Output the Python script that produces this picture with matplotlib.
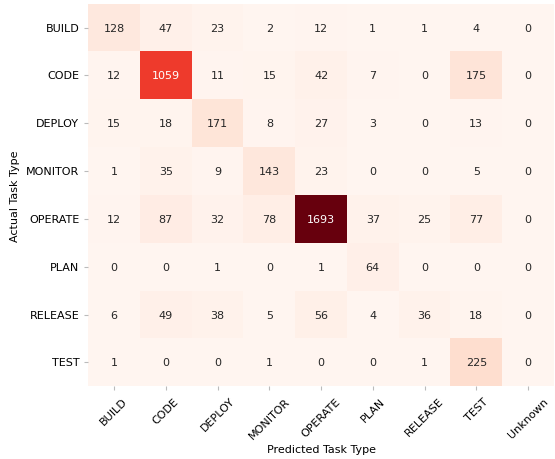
import numpy as np
import matplotlib
matplotlib.use("Agg")
import matplotlib.pyplot as plt
import seaborn as sns

# Etykiety klas
actual_labels = ["BUILD", "CODE", "DEPLOY", "MONITOR", "OPERATE", "PLAN", "RELEASE", "TEST"]
predicted_labels = ["BUILD", "CODE", "DEPLOY", "MONITOR", "OPERATE", "PLAN", "RELEASE", "TEST", "Unknown"]

# Macierz pomyłek (wiersze: rzeczywiste, kolumny: przewidziane)
row_build = [128, 47, 23, 2, 12, 1, 1, 4, 0]
row_code = [12, 1059, 11, 15, 42, 7, 0, 175, 0]
row_deploy = [15, 18, 171, 8, 27, 3, 0, 13, 0]
row_monitor = [1, 35, 9, 143, 23, 0, 0, 5, 0]
row_operate = [12, 87, 32, 78, 1693, 37, 25, 77, 0]
row_plan = [0, 0, 1, 0, 1, 64, 0, 0, 0]
row_release = [6, 49, 38, 5, 56, 4, 36, 18, 0]
row_test = [1, 0, 0, 1, 0, 0, 1, 225, 0]

cm = np.array([row_build, row_code, row_deploy, row_monitor,
               row_operate, row_plan, row_release, row_test])

fig, ax = plt.subplots(figsize=(5.55, 4.6), dpi=100)
fig.subplots_adjust(left=0.159, right=0.998, top=0.99, bottom=0.158)

sns.heatmap(cm, annot=True, fmt="d", cmap="Reds", cbar=False,
            xticklabels=predicted_labels, yticklabels=actual_labels,
            annot_kws={"fontsize": 8}, ax=ax)

ax.set_xlabel("Predicted Task Type", fontsize=8, labelpad=3)
ax.set_ylabel("Actual Task Type", fontsize=8)
ax.tick_params(axis="both", labelsize=8, color="#bbbbbb", length=3)
plt.setp(ax.get_xticklabels(), rotation=45, ha="center")
plt.setp(ax.get_yticklabels(), rotation=0)

fig.savefig("out.png", dpi=100)
